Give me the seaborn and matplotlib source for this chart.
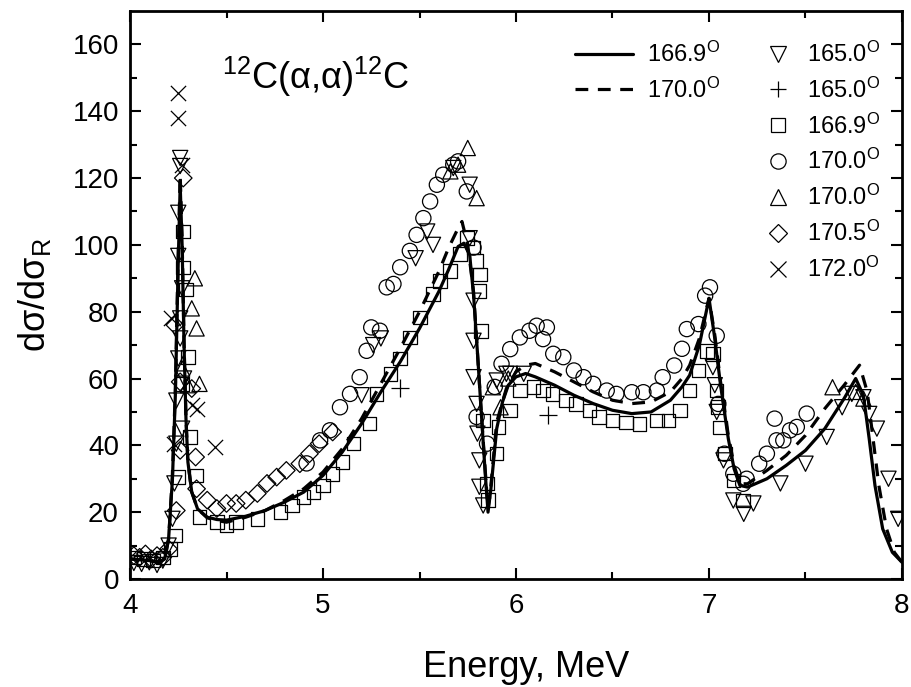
import numpy as np
import pandas as pd
import matplotlib
matplotlib.use("Agg")
import matplotlib.pyplot as plt
from matplotlib.lines import Line2D
import seaborn as sns

# ---------------- data ----------------
# theory curves
th1_x = [4.00, 4.05, 4.10, 4.15, 4.18, 4.20, 4.22, 4.235, 4.25, 4.26, 4.27, 4.28, 4.29, 4.30, 4.32, 4.35,
         4.40, 4.45, 4.50, 4.60, 4.70, 4.80, 4.90, 5.00, 5.10, 5.20, 5.30, 5.40, 5.50, 5.60, 5.65, 5.70,
         5.73, 5.76, 5.78, 5.80, 5.82, 5.84, 5.855, 5.87, 5.90, 5.93, 5.96, 6.00, 6.05, 6.10, 6.20, 6.30,
         6.40, 6.50, 6.60, 6.70, 6.80, 6.86, 6.90, 6.95, 7.00, 7.03, 7.06, 7.10, 7.13, 7.16, 7.20, 7.30,
         7.40, 7.50, 7.60, 7.70, 7.76, 7.80, 7.83, 7.86, 7.90, 7.95, 8.00]
th1_y = [6.0, 5.8, 5.5, 5.0, 6.0, 12, 30, 55, 95, 118, 100, 70, 48, 35, 26, 21,
         18.5, 17.8, 17.6, 18.8, 20.5, 23, 26, 31, 38, 46.5, 56, 65, 75, 86, 92.5, 99.5,
         100.5, 97, 85, 68, 50, 32, 20, 27, 45, 53, 58, 60.5, 61.5, 60.5, 58, 55,
         52.5, 50.5, 49.5, 50, 53.5, 57.5, 61, 70, 84, 72, 58, 42, 33, 28, 27.5, 30,
         34, 38.5, 45, 54, 60, 55, 42, 28, 15, 8, 5]

th2_x = [4.00, 4.05, 4.10, 4.15, 4.18, 4.20, 4.22, 4.235, 4.25, 4.26, 4.27, 4.28, 4.29, 4.30, 4.32, 4.35,
         4.40, 4.45, 4.50, 4.60, 4.70, 4.80, 4.90, 5.00, 5.10, 5.20, 5.30, 5.40, 5.50, 5.60, 5.65, 5.70,
         5.72, 5.75, 5.78, 5.80, 5.82, 5.84, 5.855, 5.87, 5.90, 5.95, 6.00, 6.05, 6.10, 6.20, 6.30,
         6.40, 6.50, 6.60, 6.70, 6.80, 6.86, 6.90, 6.95, 7.00, 7.03, 7.06, 7.10, 7.13, 7.16, 7.20, 7.30,
         7.40, 7.50, 7.60, 7.70, 7.78, 7.82, 7.85, 7.88, 7.92, 7.96, 8.00]
th2_y = [6.0, 5.8, 5.5, 5.0, 6.0, 12, 31, 57, 98, 121, 102, 71, 48, 35, 26, 21,
         18.3, 17.5, 17.0, 18.5, 20.5, 23.5, 27, 32, 39, 48, 58.5, 69, 80, 92, 99, 105,
         107, 100, 86, 68, 50, 33, 21, 28, 47, 57, 62, 64, 64.5, 62, 59,
         56, 53.5, 52.5, 53, 56, 60, 64, 72, 84, 73, 59, 43, 34, 28.5, 28.5, 32.5,
         37, 43, 51, 58, 64, 56, 42, 28, 15, 8, 5]

# experimental points
tri_dn_x = [4.02, 4.06, 4.10, 4.14, 4.17, 4.20, 4.22, 4.23, 4.24, 4.24, 4.25, 4.25, 4.25, 4.26, 4.26, 4.26, 4.26,
            4.27, 4.28, 4.27,
            5.20, 5.26, 5.30, 5.48, 5.54, 5.57, 5.675, 5.76, 5.76, 5.78, 5.78, 5.78, 5.796, 5.80, 5.81, 5.81,
            5.83, 5.90, 5.95, 5.97, 6.04,
            7.02, 7.03, 7.04, 7.075, 7.126, 7.18, 7.23, 7.37, 7.50, 7.61, 7.69, 7.74, 7.80, 7.83, 7.87,
            7.93, 7.98]
tri_dn_y = [4.8, 4.5, 5.0, 4.2, 5.5, 10, 18, 28.6, 40.5, 53.4, 66, 96.7, 109.6, 78, 72, 123.6, 126,
            87, 60, 45,
            55, 70, 72, 96, 104, 100, 123, 102, 118, 83.3, 71.3, 60.4, 52.4, 43.5, 35.5, 27.6,
            22, 59.4, 61.4, 61.4, 61.4,
            63.4, 58, 50, 35.5, 23.5, 19.5, 22.6, 28.6, 34.5, 42.5, 51.4, 55.4, 54.4, 49.4, 45,
            30, 18]

plus_x = [5.40, 6.167]
plus_y = [57.3, 49.0]

sq_x = [4.02, 4.07, 4.12, 4.17, 4.21, 4.233, 4.25, 4.27, 4.276, 4.276, 4.29, 4.30, 4.31, 4.345, 4.36,
        4.45, 4.50, 4.55, 4.66, 4.78, 4.84, 4.90, 4.95, 5.00, 5.05, 5.10, 5.157, 5.24, 5.278, 5.35,
        5.40, 5.45, 5.503, 5.57, 5.605, 5.657, 5.71, 5.745, 5.78, 5.796, 5.814, 5.81, 5.82, 5.83,
        5.85, 5.855, 5.90, 5.91, 5.97, 6.02, 6.09, 6.14, 6.19, 6.26, 6.31, 6.38, 6.43, 6.50, 6.57,
        6.64, 6.73, 6.79, 6.85, 6.90, 6.945, 6.99, 7.02, 7.04, 7.048, 7.057, 7.082, 7.126, 7.177]
sq_y = [6.5, 6.0, 5.5, 6.5, 9, 13, 30.5, 58.4, 93.2, 104, 86.7, 66.4, 42.5, 31, 18.6,
        17.1, 16.0, 17.1, 18, 20, 22, 24.6, 26, 28, 31.5, 35, 40.5, 46.5, 55.4, 61.4,
        66, 72.3, 78.3, 85.3, 89.2, 92.2, 97.2, 102, 99.2, 95.2, 91.2, 86.2, 74.3, 47.5,
        28.6, 23.6, 37.5, 45.5, 50.5, 56.4, 57.4, 56.4, 55.4, 53.4, 52.4, 50.5, 48.5, 47.5, 46.9,
        46.4, 47.4, 47.4, 50.4, 56.4, 62.4, 68.3, 67.3, 56.4, 51.4, 45.4, 37.5, 29.5, 23.5]

circ_x = [4.915, 4.985, 5.036, 5.088, 5.14, 5.19, 5.226, 5.25, 5.295, 5.33, 5.365, 5.40, 5.45, 5.485,
          5.52, 5.555, 5.59, 5.623, 5.675, 5.70, 5.745, 5.78, 5.796, 5.85, 5.89, 5.925, 5.97, 6.02,
          6.07, 6.107, 6.16, 6.14, 6.193, 6.245, 6.30, 6.35, 6.40, 6.47, 6.52, 6.60, 6.66, 6.73,
          6.76, 6.82, 6.86, 6.885, 6.945, 6.98, 7.005, 7.04, 7.048, 7.08, 7.126, 7.177, 7.195, 7.26,
          7.30, 7.34, 7.35, 7.385, 7.42, 7.455, 7.506]
circ_y = [34.6, 41.5, 44.5, 51.4, 55.4, 60.4, 68.3, 75.3, 74.3, 87.3, 88.3, 93.3, 98.2, 103,
          108, 113, 118, 121, 124, 125, 116, 99.2, 48.5, 40.5, 57.5, 64.4, 68.8, 72.3,
          74.3, 75.8, 75.3, 71.8, 67.4, 66.4, 62.4, 60.4, 58.4, 56.4, 55.4, 55.9, 55.9, 56.4,
          60.4, 63.9, 68.9, 74.8, 76.3, 84.8, 87.3, 72.8, 52.4, 37.5, 31.5, 28.5, 30, 34.5,
          37.5, 48, 41.5, 41.5, 44.5, 45.5, 49.5]

tri_up_x = [4.27, 4.30, 4.32, 4.336, 4.345, 4.36, 5.66, 5.70, 5.75, 5.796, 5.88, 5.92, 5.96,
            7.64, 7.76, 7.80]
tri_up_y = [63, 58, 81, 90, 75, 58.4, 122, 124, 129, 114, 57.4, 51.4, 60,
            57.4, 56, 54]

dia_x = [4.02, 4.05, 4.08, 4.11, 4.14, 4.17, 4.20, 4.233, 4.24, 4.26, 4.26, 4.276, 4.32, 4.34,
         4.345, 4.40, 4.45, 4.50, 4.55, 4.60, 4.66, 4.71, 4.76, 4.81, 4.88, 4.93, 4.98, 5.05]
dia_y = [7.0, 6.5, 7.5, 6.0, 7.0, 6.5, 9.0, 76, 20.5, 59, 38.5, 120, 57, 36.5,
         27, 23.6, 21.1, 22.6, 22.6, 23.6, 25.6, 28.6, 30.5, 32.5, 34.5, 37.5, 40.5, 44]

cross_x = [4.23, 4.215, 4.25, 4.25, 4.27, 4.32, 4.345, 4.44]
cross_y = [40.5, 78, 145.5, 138, 124, 52, 51, 39.5]

# ---------------- plot ----------------
sns.set_theme(style="ticks")
plt.rcParams["font.family"] = ["Liberation Sans", "DejaVu Sans"]
plt.rcParams["mathtext.fontset"] = "custom"
plt.rcParams["mathtext.rm"] = "Liberation Sans"
plt.rcParams["mathtext.it"] = "Liberation Sans:italic"
plt.rcParams["text.color"] = "black"
plt.rcParams["axes.labelcolor"] = "black"
plt.rcParams["xtick.color"] = "black"
plt.rcParams["ytick.color"] = "black"
plt.rcParams["axes.edgecolor"] = "black"

fig = plt.figure(figsize=(9.12, 6.87), dpi=100)
ax = fig.add_axes([130 / 912, 1 - 579 / 687, 772 / 912, 568 / 687])

df1 = pd.DataFrame({"E": th1_x, "s": th1_y})
df2 = pd.DataFrame({"E": th2_x, "s": th2_y})
sns.lineplot(data=df1, x="E", y="s", ax=ax, color="black", lw=2.3, sort=False, zorder=5)
sns.lineplot(data=df2, x="E", y="s", ax=ax, color="black", lw=2.3, sort=False, zorder=5,
             linestyle=(0, (4, 3)))

mlw = 0.9
filled_series = [
    (tri_dn_x, tri_dn_y, "v", 120),
    (sq_x, sq_y, "s", 95),
    (circ_x, circ_y, "o", 120),
    (tri_up_x, tri_up_y, "^", 120),
    (dia_x, dia_y, "D", 80),
]
for xs, ys, m, size in filled_series:
    sns.scatterplot(x=xs, y=ys, ax=ax, marker=m, s=size, color="black",
                    facecolor="none", edgecolor="black", linewidth=mlw, zorder=3)
sns.scatterplot(x=plus_x, y=plus_y, ax=ax, marker="+", s=150, color="black", linewidth=0.9, zorder=3)
sns.scatterplot(x=cross_x, y=cross_y, ax=ax, marker="x", s=120, color="black", linewidth=0.9, zorder=3)

ax.set_xlim(4, 8)
ax.set_ylim(0, 170)
ax.set_xticks([4, 5, 6, 7, 8])
ax.set_xticks(np.arange(4, 8.01, 0.5), minor=True)
ax.set_yticks(np.arange(0, 161, 20))
ax.set_yticks(np.arange(0, 170, 10), minor=True)
ax.tick_params(which="both", direction="in", top=True, right=True, width=1.5, labelsize=20,
               colors="black")
ax.tick_params(axis="x", which="both", pad=10)
ax.tick_params(axis="y", which="both", pad=8)
ax.tick_params(which="major", length=8)
ax.tick_params(which="minor", length=5)
for sp in ax.spines.values():
    sp.set_linewidth(2)
    sp.set_color("black")

ax.set_xlabel("Energy, MeV", fontsize=26, color="black")
ax.xaxis.label.set_va("center")
ax.xaxis.set_label_coords(0.513, -0.155)
ax.set_ylabel("dσ/dσ$_\\mathrm{R}$", fontsize=26, labelpad=14, color="black")

ax.text(0.119, 0.884, "$^{12}$C(α,α)$^{12}$C", transform=ax.transAxes, fontsize=26,
        ha="left", va="center", color="black")

line_handles = [Line2D([], [], color="black", lw=2.3),
                Line2D([], [], color="black", lw=2.3, linestyle=(0, (4, 3)))]
line_labels = ["166.9$^\\mathrm{O}$", "170.0$^\\mathrm{O}$"]
leg1 = ax.legend(line_handles, line_labels, loc="upper left", bbox_to_anchor=(0.576, 0.946),
                 frameon=False, fontsize=17, borderpad=0, borderaxespad=0, handlelength=2.45,
                 handletextpad=0.6, labelspacing=0.45, labelcolor="black")
ax.add_artist(leg1)

mk_handles = [
    Line2D([], [], ls="none", marker="v", ms=11, mfc="none", mec="black", mew=0.9),
    Line2D([], [], ls="none", marker="+", ms=12, mec="black", mew=0.9),
    Line2D([], [], ls="none", marker="s", ms=9.5, mfc="none", mec="black", mew=0.9),
    Line2D([], [], ls="none", marker="o", ms=11, mfc="none", mec="black", mew=0.9),
    Line2D([], [], ls="none", marker="^", ms=11, mfc="none", mec="black", mew=0.9),
    Line2D([], [], ls="none", marker="D", ms=9, mfc="none", mec="black", mew=0.9),
    Line2D([], [], ls="none", marker="x", ms=11, mec="black", mew=0.9),
]
mk_labels = ["165.0$^\\mathrm{O}$", "165.0$^\\mathrm{O}$", "166.9$^\\mathrm{O}$", "170.0$^\\mathrm{O}$",
             "170.0$^\\mathrm{O}$", "170.5$^\\mathrm{O}$", "172.0$^\\mathrm{O}$"]
ax.legend(mk_handles, mk_labels, loc="upper left", bbox_to_anchor=(0.824, 0.946),
          frameon=False, fontsize=17, borderpad=0, borderaxespad=0, handlelength=1.0,
          handletextpad=0.75, labelspacing=0.45, labelcolor="black")

fig.savefig("out.png", dpi=100)
